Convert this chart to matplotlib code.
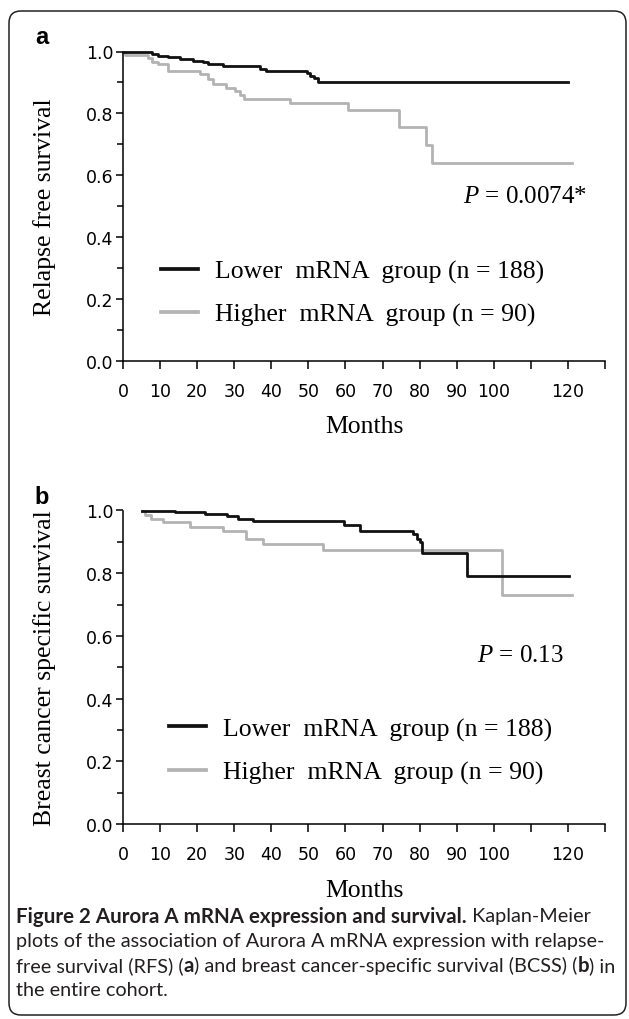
import matplotlib
matplotlib.use("Agg")
import matplotlib.pyplot as plt
from matplotlib.lines import Line2D
from matplotlib.patches import FancyBboxPatch
from matplotlib.ticker import MultipleLocator

plt.rcParams['font.family'] = 'DejaVu Sans'
plt.rcParams['mathtext.fontset'] = 'custom'
plt.rcParams['mathtext.it'] = 'Liberation Serif:italic'
plt.rcParams['mathtext.rm'] = 'Liberation Serif'

# panel a: relapse free survival (months, survival fraction)
rfs_low_t = [0, 7.7, 9.5, 12.2, 15.4, 19.0, 21.6, 23.0, 27.0, 37.0, 38.7, 49.5, 50.5, 51.5, 52.5, 120]
rfs_low_s = [1.0, 0.993, 0.986, 0.981, 0.976, 0.970, 0.965, 0.959, 0.952, 0.944, 0.937, 0.930, 0.922, 0.914, 0.900, 0.900]
rfs_high_t = [0, 0.5, 6.8, 7.7, 9.5, 12.2, 20.7, 23.0, 24.3, 27.9, 30.2, 31.6, 32.5, 45.0, 60.7, 74.5, 81.8, 83.3, 121]
rfs_high_s = [1.0, 0.989, 0.978, 0.967, 0.960, 0.937, 0.927, 0.910, 0.894, 0.883, 0.872, 0.861, 0.848, 0.834, 0.812, 0.756, 0.699, 0.640, 0.640]

# panel b: breast cancer specific survival
bcss_low_t = [5, 14, 22, 28, 31, 35, 59.6, 63.8, 78.3, 79.2, 80.0, 80.6, 92.9, 120.2]
bcss_low_s = [1.0, 0.995, 0.989, 0.984, 0.973, 0.967, 0.954, 0.936, 0.925, 0.910, 0.898, 0.866, 0.792, 0.792]
bcss_high_t = [5, 6.0, 7.5, 10.7, 18.2, 27.0, 33.1, 37.7, 54.0, 102.2, 121.2]
bcss_high_s = [1.0, 0.985, 0.973, 0.962, 0.946, 0.936, 0.909, 0.893, 0.875, 0.730, 0.730]

groups = ["Lower  mRNA  group (n = 188)", "Higher  mRNA  group (n = 90)"]
p_texts = [r"$P$ = 0.0074*", r"$P$ = 0.13"]
ylabels = ["Relapse free survival", "Breast cancer specific survival"]
panel_letters = ["a", "b"]
xticks = list(range(0, 131, 10))
xticklabels = ["" if v in (110, 130) else str(v) for v in xticks]

col_low = "#111111"
col_high = "#b3b3b3"
serif = "Liberation Serif"

W, H = 629, 1020
fig = plt.figure(figsize=(W / 100, H / 100), dpi=100)

# rounded frame around the whole figure
frame = FancyBboxPatch((0.09, 0.04), 6.17, 10.04, boxstyle="round,pad=0,rounding_size=0.12",
                       transform=fig.dpi_scale_trans, fill=False, ec="#222222", lw=1.1)
fig.add_artist(frame)


def panel(ax, low, high, ptext, ppos, ylabel, leg_anchor):
    ax.step(low[0], low[1], where="post", color=col_low, lw=2.0, clip_on=False, zorder=3)
    ax.step(high[0], high[1], where="post", color=col_high, lw=2.0, clip_on=False, zorder=2)
    ax.set_xlim(0, 130)
    ax.set_ylim(0, 1)
    for s in ("top", "right"):
        ax.spines[s].set_visible(False)
    for s in ("left", "bottom"):
        ax.spines[s].set_linewidth(1.1)
    ax.set_xticks(xticks)
    ax.set_xticklabels(xticklabels)
    ax.yaxis.set_major_locator(MultipleLocator(0.2))
    ax.yaxis.set_minor_locator(MultipleLocator(0.1))
    ax.yaxis.set_major_formatter(lambda v, p: f"{v:.1f}")
    ax.tick_params(which="both", direction="out", width=1.1, labelsize=12.5, colors="black")
    ax.tick_params(which="major", length=5)
    ax.tick_params(which="minor", length=4.5)
    ax.tick_params(axis="x", length=6, pad=9)
    ax.tick_params(axis="y", pad=2)
    ax.set_ylabel(ylabel, family=serif, fontsize=18.5)
    ax.yaxis.set_label_coords(-0.14, 0.5)
    ax.set_xlabel("Months", family=serif, fontsize=18.5)
    ax.xaxis.set_label_coords(0.5, -0.175)
    ax.text(ppos[0], ppos[1], ptext, ha="right", va="center", family=serif, fontsize=18)
    handles = [Line2D([], [], color=col_low, lw=2.7), Line2D([], [], color=col_high, lw=2.7)]
    ax.legend(handles, groups, loc="upper left", bbox_to_anchor=leg_anchor, frameon=False,
              prop={"family": serif, "size": 18.5}, handlelength=1.45, handletextpad=0.66,
              labelspacing=0.77, borderpad=0, borderaxespad=0)


ax_a = fig.add_axes([123 / W, 1 - 362 / H, 482 / W, 309.5 / H])
panel(ax_a, (rfs_low_t, rfs_low_s), (rfs_high_t, rfs_high_s), p_texts[0], (125.2, 0.534),
      ylabels[0], (0.078, 0.327))

ax_b = fig.add_axes([123 / W, 1 - 825 / H, 482 / W, 313.5 / H])
panel(ax_b, (bcss_low_t, bcss_low_s), (bcss_high_t, bcss_high_s), p_texts[1], (118.9, 0.538),
      ylabels[1], (0.095, 0.34))

for letter, ypx in zip(panel_letters, [38, 497]):
    fig.text(42 / W, 1 - ypx / H, letter, ha="center", va="center", family="Liberation Sans",
             fontweight="bold", fontsize=17)

# caption, with bold runs placed after measuring the preceding run
caption = [
    [("Figure 2 Aurora A mRNA expression and survival.", "bold"), (" Kaplan-Meier", "normal")],
    [("plots of the association of Aurora A mRNA expression with relapse-", "normal")],
    [("free survival (RFS) (", "normal"), ("a", "bold"), (") and breast cancer-specific survival (BCSS) (", "normal"),
     ("b", "bold"), (") in", "normal")],
    [("the entire cohort.", "normal")],
]
renderer = fig.canvas.get_renderer()
y0, dy = 917, 24.5
for i, line in enumerate(caption):
    x = 16
    for txt, wt in line:
        t = fig.text(x / W, 1 - (y0 + i * dy) / H, txt, ha="left", va="center", family="Lato",
                     fontweight=wt, fontsize=14.8 if wt == "bold" else 14.3, color="#231f20")
        x += t.get_window_extent(renderer=renderer).width

fig.savefig("out.png", dpi=100)
